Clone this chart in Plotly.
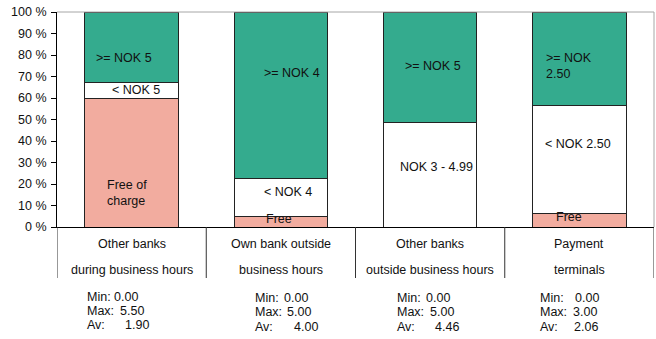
import plotly.graph_objects as go

# ---- data ----
cat_line1 = ["Other banks", "Own bank outside", "Other banks", "Payment"]
cat_line2 = ["during business hours", "business hours", "outside business hours", "terminals"]
free_share = [60.0, 5.0, 0.0, 6.5]
low_share = [7.0, 17.5, 48.5, 50.0]
high_share = [33.0, 77.5, 51.5, 43.5]
stat_min = [0.00, 0.00, 0.00, 0.00]
stat_max = [5.50, 5.00, 5.00, 3.00]
stat_av = [1.90, 4.00, 4.46, 2.06]
y_ticks = [0, 10, 20, 30, 40, 50, 60, 70, 80, 90, 100]
y_tick_text = [f"{v} %" for v in y_ticks]

# segment labels: (text, x in category units, y in %, xanchor)
seg_labels = [
    (">= NOK 5", -0.05, 78.6, "center"),
    ("< NOK 5", 0.03, 63.7, "center"),
    ("Free of<br>charge", -0.18, 15.8, "left"),
    (">= NOK 4", 1.075, 71.6, "center"),
    ("< NOK 4", 1.05, 16.3, "center"),
    ("Free", 0.99, 3.7, "center"),
    (">= NOK 5", 2.02, 74.9, "center"),
    ("NOK 3 - 4.99", 2.04, 27.9, "center"),
    (">= NOK<br>2.50", 2.763, 74.9, "left"),
    ("< NOK 2.50", 2.99, 38.6, "center"),
    ("Free", 2.93, 4.7, "center"),
]

GREEN = "#34AB8E"
SALMON = "#F2AC9F"
FONT = "Liberation Sans, Arial, sans-serif"
FS = 12.5
TXT = "#111111"

x = list(range(len(cat_line1)))
fig = go.Figure()
for vals, col in [(free_share, SALMON), (low_share, "#FFFFFF"), (high_share, GREEN)]:
    fig.add_trace(go.Bar(x=x, y=vals, width=0.625, marker=dict(color=col, line=dict(color="#222222", width=1)),
                         showlegend=False, hoverinfo="skip"))

W, H = 656, 339
PL, PT, PR, PB = 57, 12, 654, 227  # plot area in page pixels
L, T = PL, PT
pw, ph = PR - PL, PB - PT
R = W - L - pw
B = H - T - ph

def px2paper(px, py):
    return (px - PL) / pw, (PB - py) / ph

ann = []
for text, xx, yy, anc in seg_labels:
    ann.append(dict(x=xx, y=yy, xref="x", yref="y", text=text, showarrow=False, xanchor=anc, align="left",
                    font=dict(family=FONT, size=FS, color=TXT)))

# category labels
for i in x:
    for txt, py in [(cat_line1[i], 244), (cat_line2[i], 270)]:
        ann.append(dict(x=i, y=px2paper(0, py)[1], xref="x", yref="paper", text=txt, showarrow=False,
                        xanchor="center", yanchor="middle", font=dict(family=FONT, size=FS, color=TXT)))

# stats blocks
stat_lbl_x = [85, 253, 395, 538]
stat_val_x = [[112, 118, 123], [282, 285, 292], [424, 428, 433], [573, 571, 572]]
stat_rows = [[297, 311, 325], [298, 312, 327], [298, 312, 327], [298, 312, 327]]
for i in x:
    vals = [stat_min[i], stat_max[i], stat_av[i]]
    for k, lab in enumerate(["Min:", "Max:", "Av:"]):
        xp, yp = px2paper(stat_lbl_x[i], stat_rows[i][k])
        ann.append(dict(x=xp, y=yp, xref="paper", yref="paper", text=lab, showarrow=False,
                        xanchor="left", yanchor="middle", font=dict(family=FONT, size=FS, color=TXT)))
        xv, _ = px2paper(stat_val_x[i][k], 0)
        ann.append(dict(x=xv, y=yp, xref="paper", yref="paper", text=f"{vals[k]:.2f}", showarrow=False,
                        xanchor="left", yanchor="middle", font=dict(family=FONT, size=FS, color=TXT)))

shapes = []
# top and right gray frame
shapes.append(dict(type="line", xref="paper", yref="paper", x0=0, x1=1, y0=1, y1=1, line=dict(color="#A6A6A6", width=1)))
shapes.append(dict(type="line", xref="paper", yref="paper", x0=1, x1=1, y0=0, y1=1, line=dict(color="#A6A6A6", width=1)))
# category separators below axis
sep_bottom = px2paper(0, 278)[1]
for b in [-0.5, 0.5, 1.5, 2.5, 3.5]:
    shapes.append(dict(type="line", xref="x", yref="paper", x0=b, x1=b, y0=0, y1=sep_bottom,
                       line=dict(color="#333333", width=1)))

fig.update_layout(
    width=W, height=H, margin=dict(l=L, r=R, t=T, b=B, autoexpand=False),
    barmode="stack", bargap=0.375,
    plot_bgcolor="white", paper_bgcolor="white",
    font=dict(family=FONT, size=FS, color=TXT),
    hovermode=False,
    xaxis=dict(range=[-0.5, 3.5], showticklabels=False, ticks="", showgrid=False, zeroline=False,
               showline=True, linecolor="#000000", linewidth=1),
    yaxis=dict(range=[0, 100], tickmode="array", tickvals=y_ticks, ticktext=y_tick_text, ticks="outside",
               ticklen=5, tickcolor="#000000", showgrid=False, zeroline=False, showline=True,
               linecolor="#000000", linewidth=1, ticklabeloverflow="allow", ticklabelstandoff=2,
               tickfont=dict(family=FONT, size=FS, color=TXT)),
    annotations=ann, shapes=shapes,
)
fig.write_html("out.html", config={"displayModeBar": False, "staticPlot": True},
               post_script="document.body.style.margin='0';document.body.style.overflow='hidden';")
